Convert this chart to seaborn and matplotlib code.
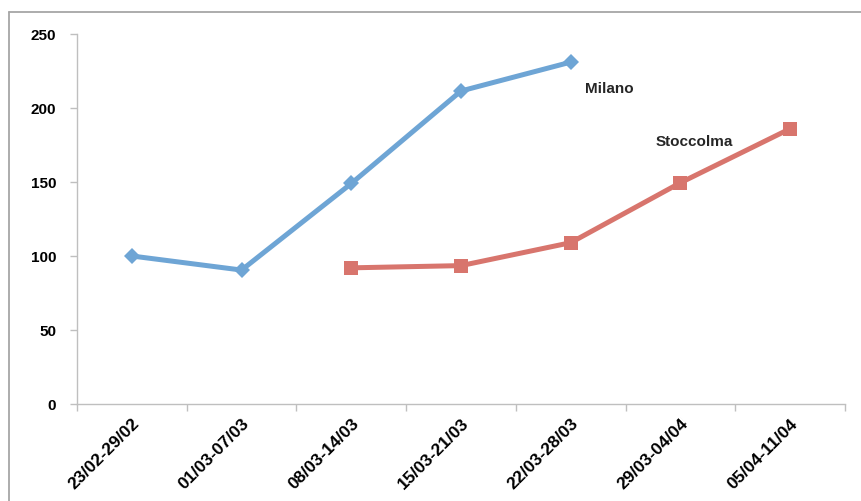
import numpy as np
import pandas as pd
import matplotlib
matplotlib.use("Agg")
import matplotlib.pyplot as plt
from matplotlib.lines import Line2D
import seaborn as sns

categories = ["23/02-29/02", "01/03-07/03", "08/03-14/03", "15/03-21/03",
              "22/03-28/03", "29/03-04/04", "05/04-11/04"]
milano_weeks = ["23/02-29/02", "01/03-07/03", "08/03-14/03", "15/03-21/03", "22/03-28/03"]
milano_values = [100, 90.5, 149, 211.5, 231]
stoccolma_weeks = ["08/03-14/03", "15/03-21/03", "22/03-28/03", "29/03-04/04", "05/04-11/04"]
stoccolma_values = [92, 93.5, 109, 149.5, 186]
yticks = [0, 50, 100, 150, 200, 250]

sns.set_theme(style="white")
plt.rcParams['font.family'] = ['Liberation Sans', 'DejaVu Sans']

rows = []
for w, v in zip(milano_weeks, milano_values):
    rows.append({"pos": categories.index(w), "value": v, "city": "Milano"})
for w, v in zip(stoccolma_weeks, stoccolma_values):
    rows.append({"pos": categories.index(w), "value": v, "city": "Stoccolma"})
df = pd.DataFrame(rows)

fig = plt.figure(figsize=(8.61, 5.02), dpi=100)
ax = fig.add_axes([77/861, 1-405/502, (845-77)/861, (405-35)/502])

blue = "#6EA5D5"
red = "#D8756D"
sns.lineplot(data=df, x="pos", y="value", hue="city", style="city",
             markers={"Milano": "D", "Stoccolma": "s"}, dashes=False,
             palette={"Milano": blue, "Stoccolma": red}, linewidth=3.6,
             markersize=8, markeredgewidth=0, legend=False, ax=ax)
for ln in ax.get_lines():
    if ln.get_marker() == 's':
        ln.set_markersize(10.5)
    elif ln.get_marker() == 'D':
        ln.set_markersize(8.5)

ax.set_xlim(-0.5, len(categories) - 0.5)
ax.set_ylim(0, 250)
ax.set_xlabel("")
ax.set_ylabel("")

ax.set_yticks(yticks)
ax.set_yticklabels([str(t) for t in yticks], fontsize=11, fontweight='bold', color='black')
ax.set_xticks(range(len(categories)))
ax.set_xticklabels(categories, rotation=45, ha='right', rotation_mode='anchor',
                   fontsize=12.5, fontweight='bold', color='black')
ax.set_xticks(np.arange(-0.5, len(categories)), minor=True)
ax.tick_params(axis='x', which='major', length=0, pad=8)
ax.tick_params(axis='x', which='minor', length=5, color='#BFBFBF', width=1, direction='out', bottom=True)
ax.tick_params(axis='y', which='major', length=5, color='#BFBFBF', width=1, direction='out', left=True, pad=10)

for s in ['top', 'right']:
    ax.spines[s].set_visible(False)
for s in ['left', 'bottom']:
    ax.spines[s].set_color('#BFBFBF')
    ax.spines[s].set_linewidth(1)

ax.text(4.13, 213.5, "Milano", fontsize=11, fontweight='bold', va='center', ha='left')
ax.text(4.77, 177.5, "Stoccolma", fontsize=11, fontweight='bold', va='center', ha='left')

fig.add_artist(Line2D([9/861, 1], [1-13/502, 1-13/502], transform=fig.transFigure,
                      color='#A6A6A6', linewidth=1.3))
fig.add_artist(Line2D([9/861, 9/861], [0, 1-13/502], transform=fig.transFigure,
                      color='#A6A6A6', linewidth=1.3))

fig.savefig("out.png", dpi=100, facecolor='white')
